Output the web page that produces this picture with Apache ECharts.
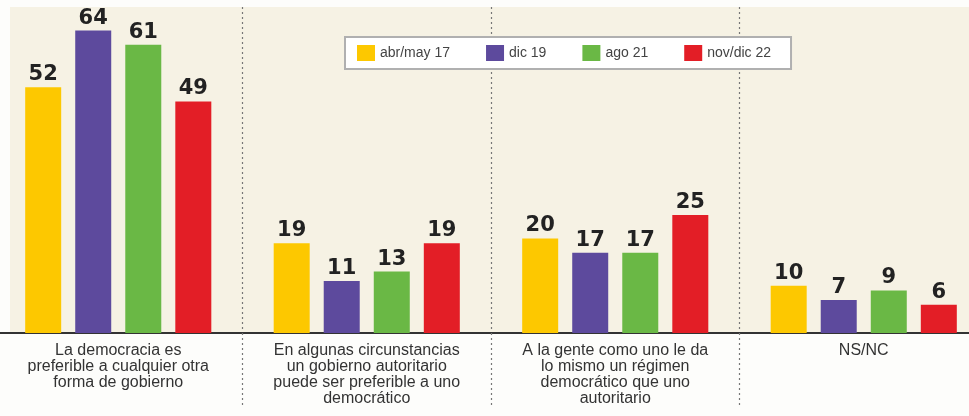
<!DOCTYPE html>
<html>
<head>
<meta charset="utf-8">
<script src="https://cdn.jsdelivr.net/npm/echarts@6/dist/echarts.min.js"></script>
<style>
html,body{margin:0;padding:0;background:#fdfdfb;}
#chart{width:969px;height:416px;}
</style>
</head>
<body>
<div id="chart"></div>
<script>
const categories = [
  'La democracia es\npreferible a cualquier otra\nforma de gobierno',
  'En algunas circunstancias\nun gobierno autoritario\npuede ser preferible a uno\ndemocrático',
  'A la gente como uno le da\nlo mismo un régimen\ndemocrático que uno\nautoritario',
  'NS/NC'
];
const seriesNames = ['abr/may 17', 'dic 19', 'ago 21', 'nov/dic 22'];
const abrMay17 = [52, 19, 20, 10];
const dic19 = [64, 11, 17, 7];
const ago21 = [61, 13, 17, 9];
const novDic22 = [49, 19, 25, 6];
const seriesValues = [abrMay17, dic19, ago21, novDic22];
const colors = ['#fdc800', '#5d4a9d', '#6ab845', '#e31e26'];

const chart = echarts.init(document.getElementById('chart'));
const font = '"Liberation Sans", Arial, Helvetica, sans-serif';

chart.setOption({
  animation: false,
  backgroundColor: '#fdfdfb',
  textStyle: { fontFamily: font },
  graphic: [{
    type: 'rect', z: -10, silent: true,
    shape: { x: 10, y: 7, width: 959, height: 326 },
    style: { fill: '#f6f2e4' }
  }],
  legend: {
    data: seriesNames,
    left: 345, top: 37,
    orient: 'horizontal',
    backgroundColor: '#ffffff',
    borderColor: '#b0b0b0',
    borderWidth: 2,
    borderRadius: 0,
    padding: [8, 20, 8, 12],
    itemWidth: 18, itemHeight: 16, itemGap: 36,
    icon: 'rect',
    textStyle: { fontFamily: font, fontSize: 14, color: '#444' }
  },
  grid: { left: -6, top: 7, width: 994, bottom: 83, containLabel: false, outerBoundsMode: 'none' },
  xAxis: {
    type: 'category',
    data: categories,
    axisLine: { show: true, lineStyle: { color: '#333', width: 2 } },
    axisTick: { show: true, length: 75, lineStyle: { color: '#777', type: [2, 3], width: 1.2 } },
    axisLabel: {
      interval: 0, margin: 9, color: '#333', fontSize: 16, lineHeight: 16.3,
      fontFamily: font, align: 'center', verticalAlign: 'top'
    },
    splitLine: { show: true, lineStyle: { color: '#777', type: [2, 3], width: 1.2 } }
  },
  yAxis: {
    type: 'value', min: 0, max: 69, show: false,
    splitLine: { show: false }
  },
  series: seriesNames.map((name, i) => ({
    name: name,
    type: 'bar',
    data: seriesValues[i],
    barWidth: 36,
    barGap: '39%',
    itemStyle: { color: colors[i] },
    label: {
      show: true, position: 'top', distance: 2,
      fontFamily: '"DejaVu Sans", sans-serif', fontWeight: 'bold', fontSize: 21, color: '#222'
    }
  }))
});
</script>
</body>
</html>
